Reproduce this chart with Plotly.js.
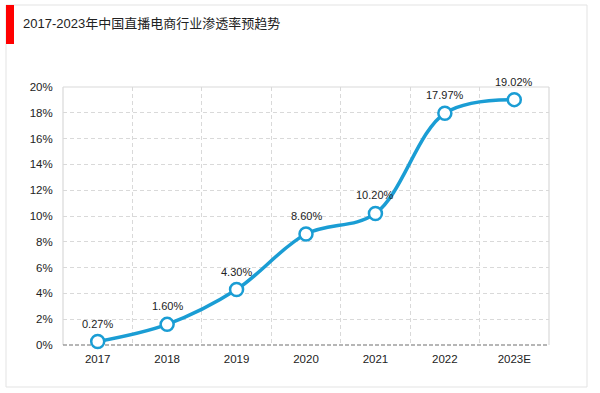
<!DOCTYPE html>
<html>
<head>
<meta charset="utf-8">
<script src="https://cdn.plot.ly/plotly-3.0.1.min.js"></script>
<style>html,body{margin:0;padding:0;background:#fff;}#chart{width:600px;height:393px;}</style>
</head>
<body>
<div id="chart"></div>
<script>
const categories = ["2017", "2018", "2019", "2020", "2021", "2022", "2023E"];
const penetration = [0.27, 1.60, 4.30, 8.60, 10.20, 17.97, 19.02];
const valueLabels = ["0.27%", "1.60%", "4.30%", "8.60%", "10.20%", "17.97%", "19.02%"];
const yTickVals = [0, 2, 4, 6, 8, 10, 12, 14, 16, 18, 20];
const yTickText = ["0%", "2%", "4%", "6%", "8%", "10%", "12%", "14%", "16%", "18%", "20%"];
const chartTitle = "2017-2023年中国直播电商行业渗透率预趋势";

const W = 600, H = 393;
const L = 63, R = 549, T = 87, B = 345;
const px = x => (x - L) / (R - L);
const py = y => (B - y) / (B - T);
const FONT = "Liberation Sans, Arial, Noto Sans CJK SC, sans-serif";
const BLUE = "#1a9dd4";

const trace = {
  x: categories,
  y: penetration,
  type: "scatter",
  mode: "lines+markers",
  line: {color: BLUE, width: 3.5, shape: "spline", smoothing: 1},
  marker: {size: 13, color: "#ffffff", line: {color: BLUE, width: 2.5}},
  cliponaxis: false,
  hoverinfo: "none"
};

// category axis: annotation x given as the category index
const labelAnnotations = categories.map((c, i) => ({
  x: i, y: penetration[i], xref: "x", yref: "y",
  text: valueLabels[i], showarrow: false,
  xanchor: "center", yanchor: "middle", yshift: 18,
  font: {family: FONT, size: 11, color: "#222"}
}));

const layout = {
  width: W, height: H,
  margin: {l: L, r: W - R, t: T, b: H - B, pad: 0},
  paper_bgcolor: "#ffffff",
  plot_bgcolor: "#ffffff",
  showlegend: false,
  font: {family: FONT, size: 11, color: "#222"},
  xaxis: {
    type: "category",
    categoryarray: categories,
    tickson: "boundaries",
    showgrid: true,
    gridcolor: "#d9d9d9",
    griddash: "4px,3px",
    gridwidth: 1,
    showline: false,
    zeroline: false,
    ticks: "",
    ticklabelstandoff: 5,
    tickfont: {family: FONT, size: 11.5, color: "#222"},
    range: [-0.5, 6.5],
    fixedrange: true
  },
  yaxis: {
    range: [0, 20],
    tickvals: yTickVals,
    ticktext: yTickText,
    showgrid: true,
    gridcolor: "#d9d9d9",
    griddash: "4px,3px",
    gridwidth: 1,
    showline: false,
    zeroline: false,
    ticks: "outside",
    ticklen: 7,
    tickcolor: "rgba(0,0,0,0)",
    tickfont: {family: FONT, size: 11.5, color: "#222"},
    fixedrange: true
  },
  shapes: [
    {type: "rect", xref: "paper", yref: "paper", x0: px(6), x1: px(587), y0: py(387), y1: py(5),
     line: {color: "#e3e3e3", width: 1}, layer: "below"},
    {type: "rect", xref: "paper", yref: "paper", x0: px(6), x1: px(14), y0: py(44), y1: py(5),
     line: {width: 0}, fillcolor: "#ff0000"},
    {type: "line", xref: "paper", yref: "paper", x0: 0, x1: 0, y0: 0, y1: 1, line: {color: "#d9d9d9", width: 1.2}, layer: "below"},
    {type: "line", xref: "paper", yref: "paper", x0: 0, x1: 1, y0: 1, y1: 1, line: {color: "#d9d9d9", width: 1.2}, layer: "below"},
    {type: "line", xref: "paper", yref: "paper", x0: 1, x1: 1, y0: 0, y1: 1, line: {color: "#d9d9d9", width: 1.2}, layer: "below"},
    {type: "line", xref: "paper", yref: "paper", x0: 0, x1: 1, y0: 0, y1: 0, line: {color: "#6e6e6e", width: 1.2, dash: "4px,2px"}, layer: "below"}
  ],
  annotations: [
    {text: chartTitle, xref: "paper", yref: "paper", x: px(21), y: py(23), xanchor: "left", yanchor: "middle",
     showarrow: false, font: {family: FONT, size: 13, color: "#222"}}
  ].concat(labelAnnotations)
};

Plotly.newPlot("chart", [trace], layout, {displayModeBar: false, staticPlot: true});
</script>
</body>
</html>
